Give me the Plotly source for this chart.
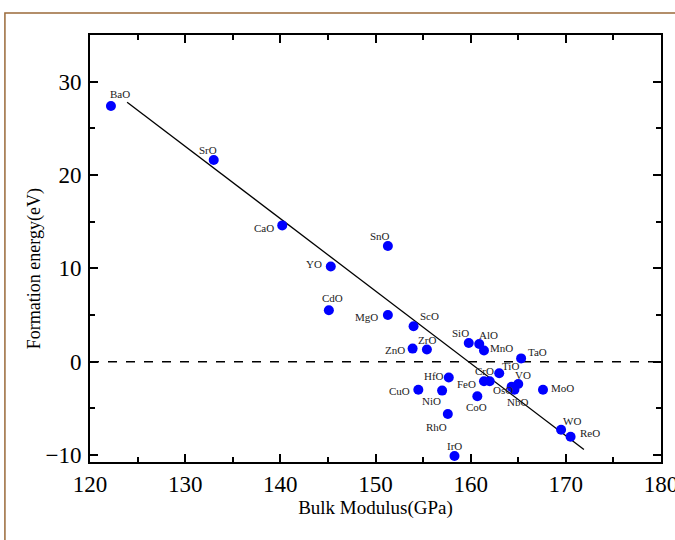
import plotly.graph_objects as go

# ---- data ----
oxides = ["BaO", "SrO", "CaO", "SnO", "YO", "CdO", "MgO", "ScO", "ZnO", "ZrO",
          "SiO", "AlO", "MnO", "TaO", "TiO", "CrO", "HfO", "FeO", "VO", "OsO",
          "NbO", "MoO", "CuO", "NiO", "CoO", "RhO", "IrO", "WO", "ReO"]
bulk_modulus = [122.2, 133.0, 140.2, 151.3, 145.3, 145.1, 151.3, 154.0, 153.9, 155.4,
                159.8, 160.9, 161.4, 165.3, 163.0, 162.0, 157.7, 161.4, 165.0, 164.3,
                164.6, 167.6, 154.5, 157.0, 160.7, 157.6, 158.3, 169.5, 170.5]
formation_energy = [27.4, 21.6, 14.6, 12.4, 10.2, 5.5, 5.0, 3.8, 1.4, 1.3,
                    2.0, 1.9, 1.2, 0.35, -1.25, -2.1, -1.7, -2.1, -2.4, -2.7,
                    -3.0, -3.0, -3.0, -3.1, -3.7, -5.6, -10.1, -7.3, -8.05]
fit_x = [123.9, 171.9]
fit_y = [27.8, -9.4]
zero_x = [120, 180]
zero_y = [0, 0]
x_range = [120, 180]
y_range = [-10.75, 35]

# label offsets in pixels (dx right, dy down)
label_offsets = {
    "BaO": (9, -12), "SrO": (-6, -10), "CaO": (-18, 3), "SnO": (-8, -10),
    "YO": (-17, -2), "CdO": (4, -12), "MgO": (-21, 2), "ScO": (16, -10),
    "ZnO": (-18, 1), "ZrO": (0, -10), "SiO": (-8, -10), "AlO": (9, -9),
    "MnO": (18, -2), "TaO": (16, -6), "TiO": (11, -7), "CrO": (-5, -10),
    "HfO": (-15, -2), "FeO": (-17, 3), "VO": (5, -9), "OsO": (-9, 3),
    "NbO": (3, 12), "MoO": (20, -2), "CuO": (-19, 1), "NiO": (-11, 10),
    "CoO": (-1, 11), "RhO": (-11, 13), "IrO": (0, -10), "WO": (11, -9),
    "ReO": (19, -4),
}

serif = "Liberation Serif"

fig = go.Figure()

fig.add_trace(go.Scatter(x=zero_x, y=zero_y, mode="lines",
                         line=dict(color="black", width=1.5, dash="dash"),
                         showlegend=False, hoverinfo="skip"))
fig.add_trace(go.Scatter(x=fit_x, y=fit_y, mode="lines",
                         line=dict(color="black", width=1.3),
                         showlegend=False, hoverinfo="skip"))
fig.add_trace(go.Scatter(x=bulk_modulus, y=formation_energy, mode="markers",
                         marker=dict(color="#0000ff", size=10),
                         showlegend=False))
# dummy trace to activate mirror axes (top / right)
fig.add_trace(go.Scatter(x=[None], y=[None], xaxis="x2", yaxis="y2",
                         showlegend=False, hoverinfo="skip"))

for name, bx, ey in zip(oxides, bulk_modulus, formation_energy):
    dx, dy = label_offsets[name]
    fig.add_annotation(x=bx, y=ey, text=name, showarrow=False,
                       xshift=dx, yshift=-dy, xanchor="center", yanchor="middle",
                       font=dict(family=serif, size=11, color="#222222"))

tick_style = dict(ticks="inside", ticklen=8, tickwidth=2, tickcolor="black",
                  showgrid=False, zeroline=False, automargin=False)
minor_style = dict(ticks="inside", dtick=5, ticklen=5, tickwidth=2, tickcolor="black")

fig.update_layout(
    xaxis=dict(range=x_range, dtick=10, tick0=120, showline=True, linecolor="black",
               linewidth=2, minor=minor_style, ticklabeloverflow="allow",
               tickfont=dict(family=serif, size=23, color="black"),
               title=dict(text="Bulk Modulus(GPa)",
                          font=dict(family=serif, size=19, color="black"), standoff=2),
               **tick_style),
    yaxis=dict(range=y_range, dtick=10, tick0=0, showline=True, linecolor="black",
               linewidth=2, minor=minor_style, ticklabelstandoff=2,
               tickfont=dict(family=serif, size=23, color="black"),
               **tick_style),
    xaxis2=dict(range=x_range, dtick=10, tick0=120, overlaying="x", side="top",
                anchor="y", showline=True, linecolor="black", linewidth=2,
                showticklabels=False, minor=minor_style, **tick_style),
    yaxis2=dict(range=y_range, dtick=10, tick0=0, overlaying="y", side="right",
                anchor="x", showline=True, linecolor="black", linewidth=2,
                showticklabels=False, minor=minor_style, **tick_style),
    width=675, height=540,
    margin=dict(l=90, r=14, t=35, b=78),
    paper_bgcolor="white", plot_bgcolor="white",
)

# y-axis title placed as in the reference (slightly below centre)
fig.add_annotation(xref="paper", yref="paper", x=-0.096, y=0.452,
                   text="Formation energy(eV)", textangle=-90, showarrow=False,
                   xanchor="center", yanchor="middle",
                   font=dict(family=serif, size=18, color="black"))

# outer brown frame (partial, as in the reference)
fig.add_shape(type="path", xref="paper", yref="paper",
              path="M -0.149 -0.3 L -0.149 1.0515 L 1.2 1.0515",
              line=dict(color="#9a6a3a", width=1.5))

fig.write_html("out.html")
